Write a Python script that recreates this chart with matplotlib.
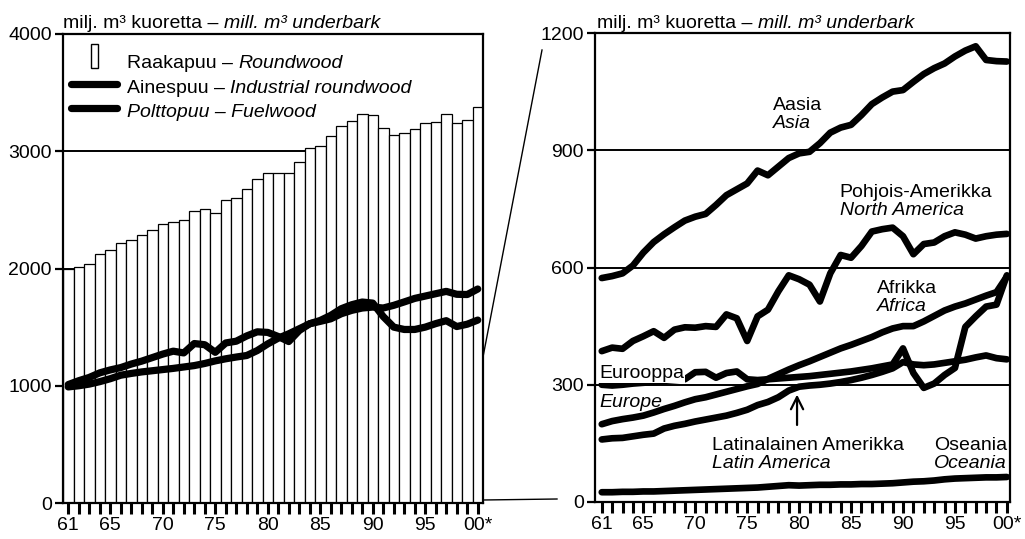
import matplotlib
matplotlib.use('Agg')
import matplotlib.pyplot as plt
from matplotlib.lines import Line2D
from matplotlib.patches import Rectangle
import numpy as np

plt.rcParams['font.family'] = ['Liberation Sans', 'DejaVu Sans']
plt.rcParams['font.size'] = 14

# ---------------- data ----------------
years = list(range(1961, 2001))
tick_text = {1961: '61', 1965: '65', 1970: '70', 1975: '75', 1980: '80',
             1985: '85', 1990: '90', 1995: '95', 2000: '00*'}

roundwood = [1995, 2010, 2038, 2124, 2158, 2215, 2243, 2286, 2328, 2380,
             2397, 2414, 2493, 2510, 2476, 2584, 2598, 2674, 2765, 2817,
             2812, 2812, 2911, 3025, 3045, 3130, 3215, 3260, 3318, 3312,
             3195, 3138, 3158, 3187, 3244, 3250, 3318, 3244, 3267, 3375]
industrial = [1010, 1043, 1071, 1110, 1135, 1155, 1185, 1210, 1240, 1270,
              1295, 1280, 1360, 1350, 1285, 1365, 1380, 1425, 1460, 1455,
              1420, 1377, 1471, 1529, 1557, 1600, 1657, 1691, 1714, 1705,
              1590, 1500, 1480, 1480, 1500, 1530, 1555, 1505, 1525, 1560]
fuelwood = [990, 1000, 1014, 1035, 1060, 1090, 1105, 1118, 1128, 1138,
            1148, 1160, 1172, 1190, 1212, 1230, 1245, 1258, 1300, 1357,
            1406, 1443, 1486, 1529, 1549, 1571, 1614, 1643, 1663, 1671,
            1663, 1686, 1715, 1745, 1765, 1785, 1805, 1780, 1778, 1825]

asia = [573, 578, 585, 605, 638, 665, 685, 703, 720, 730,
        737, 760, 785, 800, 815, 848, 836, 858, 880, 892,
        896, 918, 945, 958, 965, 990, 1018, 1035, 1050, 1054,
        1075, 1095, 1110, 1122, 1140, 1155, 1166, 1131, 1128, 1127]
north_america = [386, 395, 392, 412, 424, 437, 420, 441, 447, 446,
                 450, 448, 480, 470, 412, 475, 492, 539, 580, 570,
                 556, 513, 585, 632, 625, 655, 692, 698, 702, 680,
                 634, 660, 664, 680, 690, 684, 674, 680, 684, 686]
africa = [199, 207, 212, 216, 221, 229, 238, 246, 255, 263,
          268, 275, 282, 289, 296, 302, 315, 327, 339, 350,
          360, 371, 382, 393, 402, 412, 422, 434, 444, 450,
          450, 462, 476, 490, 500, 508, 518, 528, 537, 577]
europe = [300, 298, 300, 303, 305, 307, 310, 312, 314, 332,
          333, 318, 330, 334, 314, 312, 314, 316, 318, 320,
          322, 325, 328, 331, 334, 338, 342, 347, 352, 393,
          330, 292, 303, 325, 343, 448, 475, 500, 505, 580]
latin_america = [160, 163, 164, 168, 172, 175, 188, 195, 200, 206,
                 211, 216, 221, 228, 236, 248, 256, 268, 285, 295,
                 298, 300, 303, 307, 312, 318, 325, 333, 342, 358,
                 352, 350, 352, 356, 360, 364, 370, 375, 368, 365]
oceania = [25, 25, 26, 26, 27, 27, 28, 29, 30, 31,
           32, 33, 34, 35, 36, 37, 39, 41, 43, 42,
           43, 44, 44, 45, 45, 46, 46, 47, 48, 50,
           52, 53, 55, 58, 60, 61, 62, 63, 63, 64]

unit_fi = 'milj. m³ kuoretta – '
unit_en = 'mill. m³ underbark'

# ---------------- layout helpers ----------------
W, H = 1025, 539
fig = plt.figure(figsize=(W / 100, H / 100), dpi=100)


def rect(l, t, r, b):
    return [l / W, 1 - b / H, (r - l) / W, (b - t) / H]


def fx(px):
    return px / W


def fy(py):
    return 1 - py / H


def mixed_text(ax, x, y, parts, transform, zorder=6, bbox=None):
    s, st = parts[0]
    prev = ax.text(x, y, s, style=st, transform=transform, ha='left',
                   va='baseline', zorder=zorder, bbox=bbox)
    for s, st in parts[1:]:
        prev = ax.annotate(s, xy=(1, 0), xycoords=prev, ha='left', va='bottom',
                           style=st, zorder=zorder, annotation_clip=False,
                           bbox=bbox)
    return prev


def style_axes(ax):
    for sp in ax.spines.values():
        sp.set_linewidth(1.6)
        sp.set_color('black')
    ax.tick_params(axis='x', length=8, width=2.2, direction='out', pad=2,
                   colors='black', labelsize=14)
    ax.tick_params(axis='y', length=6, width=1.6, direction='out', pad=2,
                   colors='black', labelsize=14)


x = np.arange(len(years))
xlabels = [tick_text.get(y, '') for y in years]

# ---------------- left panel ----------------
ax1 = fig.add_axes(rect(63, 34, 483, 503))
ax1.set_axisbelow(True)
ax1.yaxis.grid(True, color='black', linewidth=1.4)
ax1.bar(x, roundwood, width=1.0, color='white', edgecolor='black',
        linewidth=0.9, zorder=2)
lkw = dict(color='black', lw=5.2, solid_capstyle='round',
           solid_joinstyle='round', zorder=4)
ax1.plot(x, industrial, **lkw)
ax1.plot(x, fuelwood, **lkw)
ax1.set_xlim(-0.5, 39.5)
ax1.set_ylim(0, 4000)
ax1.set_yticks([0, 1000, 2000, 3000, 4000])
ax1.set_xticks(x)
ax1.set_xticklabels(xlabels)
style_axes(ax1)
mixed_text(ax1, 0.0, 1.013, [(unit_fi, 'normal'), (unit_en, 'italic')],
           ax1.transAxes)

# legend (manual, mixed roman / italic)
ax1.add_artist(Rectangle((fx(91), fy(68)), fx(7), fy(44) - fy(68),
                         transform=fig.transFigure, facecolor='white',
                         edgecolor='black', lw=1.0, zorder=6, clip_on=False))
for yy in (84, 108):
    ax1.add_artist(Line2D([fx(71), fx(117)], [fy(yy), fy(yy)],
                          transform=fig.transFigure, color='black', lw=5.2,
                          solid_capstyle='round', zorder=6, clip_on=False))
mixed_text(ax1, fx(127), fy(68), [('Raakapuu – ', 'normal'),
                                  ('Roundwood', 'italic')], fig.transFigure)
mixed_text(ax1, fx(127), fy(93), [('Ainespuu – ', 'normal'),
                                  ('Industrial roundwood', 'italic')],
           fig.transFigure)
mixed_text(ax1, fx(127), fy(117), [('Polttopuu – Fuelwood', 'italic')],
           fig.transFigure)

# ---------------- right panel ----------------
ax2 = fig.add_axes(rect(595, 33, 1010, 502))
ax2.set_axisbelow(True)
ax2.yaxis.grid(True, color='black', linewidth=1.4)
rkw = dict(color='black', lw=4.8, solid_capstyle='round',
           solid_joinstyle='round', zorder=4)
for series in (asia, north_america, africa, europe, latin_america, oceania):
    ax2.plot(x, series, **rkw)
ax2.set_xlim(-0.65, 39.3)
ax2.set_ylim(0, 1200)
ax2.set_yticks([0, 300, 600, 900, 1200])
ax2.set_xticks(x)
ax2.set_xticklabels(xlabels)
style_axes(ax2)
mixed_text(ax2, 0.005, 1.011, [(unit_fi, 'normal'), (unit_en, 'italic')],
           ax2.transAxes)

t2 = ax2.transData
labels = [
    (16.5, 1003, 'Aasia', 'Asia', 'left'),
    (22.9, 780, 'Pohjois-Amerikka', 'North America', 'left'),
    (26.5, 535, 'Afrikka', 'Africa', 'left'),
    (10.6, 132, 'Latinalainen Amerikka', 'Latin America', 'left'),
    (39.0, 132, 'Oseania', 'Oceania', 'right'),
]
for lx, ly, fi, en, ha in labels:
    ax2.text(lx, ly, fi, ha=ha, va='baseline', zorder=6)
    ax2.text(lx, ly - 46, en, ha=ha, va='baseline', style='italic', zorder=6)
ax2.text(-0.2, 317, 'Eurooppa', ha='left', va='baseline', zorder=6,
         bbox=dict(facecolor='white', edgecolor='none', pad=0.5))
ax2.text(-0.2, 243, 'Europe', ha='left', va='baseline', style='italic',
         zorder=6)
ax2.annotate('', xy=(18.8, 282), xytext=(18.8, 190),
             arrowprops=dict(arrowstyle='->', lw=1.6, color='black',
                             mutation_scale=22), zorder=6)

# ---------------- connector lines between panels ----------------
fig.add_artist(Line2D([fx(483), fx(542)], [fy(357), fy(50)], color='black',
                      lw=1.0))
fig.add_artist(Line2D([fx(483), fx(557)], [fy(500), fy(499)], color='black',
                      lw=1.0))

fig.savefig('out.png', dpi=100, facecolor='white')
